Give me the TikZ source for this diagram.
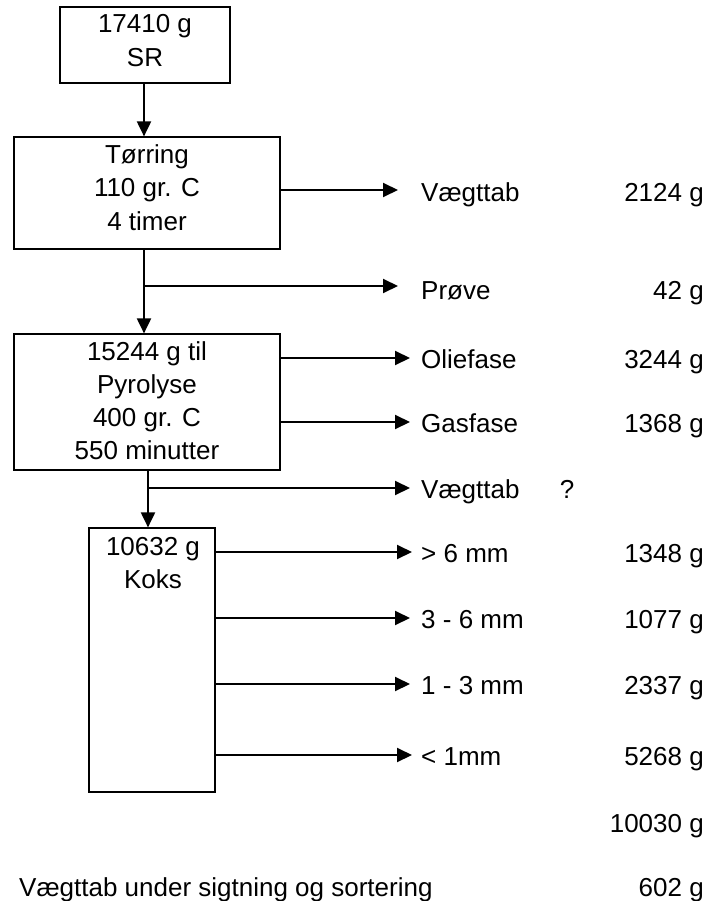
\documentclass[tikz,border=0pt]{standalone}
\usepackage{fontspec}
\setmainfont{Liberation Sans}
\usetikzlibrary{arrows.meta}
\begin{document}
\begin{tikzpicture}[x=1pt,y=-1pt,
  box/.style={draw, line width=1.2pt, inner sep=0pt},
  txt/.style={inner sep=0pt, font=\fontsize{26}{33}\selectfont},
  flow/.style={line width=2pt, -{Triangle[length=15pt,width=14pt]}},
  ln/.style={line width=2pt}]
\useasboundingbox (0,0) rectangle (711,901);
% boxes
\node[box, minimum width=170pt, minimum height=76pt] (sr) at (145,45) {};
\node[box, minimum width=266pt, minimum height=112pt] (dry) at (147,193) {};
\node[box, minimum width=266pt, minimum height=136pt] (pyr) at (147,402) {};
\node[box, minimum width=126pt, minimum height=264pt] (koks) at (152,660) {};
% box texts
\node[txt, anchor=base] (sr1) at (145,33) {17410 g};
\node[txt, anchor=base] (sr2) at (145,67) {SR};
\node[txt, anchor=base] (dry1) at (147,164) {Tørring};
\node[txt, anchor=base] (dry2) at (147,197) {110 gr. C};
\node[txt, anchor=base] (dry3) at (147,230) {4 timer};
\node[txt, anchor=base] (pyr1) at (147,360) {15244 g til};
\node[txt, anchor=base] (pyr2) at (147,393) {Pyrolyse};
\node[txt, anchor=base] (pyr3) at (147,426) {400 gr. C};
\node[txt, anchor=base] (pyr4) at (147,459) {550 minutter};
\node[txt, anchor=base] (koks1) at (153,555) {10632 g};
\node[txt, anchor=base] (koks2) at (153,588) {Koks};
% right labels
\node[txt, anchor=base west] (l1) at (421,202) {Vægttab};
\node[txt, anchor=base east] (v1) at (704,202) {2124 g};
\node[txt, anchor=base west] (l2) at (421,299) {Prøve};
\node[txt, anchor=base east] (v2) at (704,299) {42 g};
\node[txt, anchor=base west] (l3) at (421,368) {Oliefase};
\node[txt, anchor=base east] (v3) at (704,368) {3244 g};
\node[txt, anchor=base west] (l4) at (421,432) {Gasfase};
\node[txt, anchor=base east] (v4) at (704,432) {1368 g};
\node[txt, anchor=base west] (l5) at (421,498) {Vægttab};
\node[txt, anchor=base] (q5) at (567,498) {?};
\node[txt, anchor=base west] (l6) at (421,562) {> 6 mm};
\node[txt, anchor=base east] (v6) at (704,562) {1348 g};
\node[txt, anchor=base west] (l7) at (421,628) {3 - 6 mm};
\node[txt, anchor=base east] (v7) at (704,628) {1077 g};
\node[txt, anchor=base west] (l8) at (421,694) {1 - 3 mm};
\node[txt, anchor=base east] (v8) at (704,694) {2337 g};
\node[txt, anchor=base west] (l9) at (421,765) {< 1mm};
\node[txt, anchor=base east] (v9) at (704,765) {5268 g};
\node[txt, anchor=base east] (sum) at (704,832) {10030 g};
\node[txt, anchor=base west] (lossl) at (19,896) {Vægttab under sigtning og sortering};
\node[txt, anchor=base east] (lossv) at (704,896) {602 g};
% coordinates
\coordinate (b1) at (144,286);
\coordinate (b2) at (148,488);
\coordinate (t1) at (398,190);
\coordinate (t2) at (398,286);
\coordinate (t3) at (410,358);
\coordinate (t4) at (410,422);
\coordinate (t5) at (410,488);
\coordinate (t6) at (412,552);
\coordinate (t7) at (410,618);
\coordinate (t8) at (410,684);
\coordinate (t9) at (412,755);
% connectors
\draw[flow] (sr.south -| b1) -- (dry.north -| b1);
\draw[flow] (t1 -| dry.east) -- (t1);
\draw[flow] (dry.south -| b1) -- (pyr.north -| b1);
\draw[flow] (b1) -- (t2);
\draw[flow] (t3 -| pyr.east) -- (t3);
\draw[flow] (t4 -| pyr.east) -- (t4);
\draw[flow] (pyr.south -| b2) -- (koks.north -| b2);
\draw[flow] (b2) -- (t5);
\draw[flow] (t6 -| koks.east) -- (t6);
\draw[flow] (t7 -| koks.east) -- (t7);
\draw[flow] (t8 -| koks.east) -- (t8);
\draw[flow] (t9 -| koks.east) -- (t9);
\end{tikzpicture}
\end{document}
